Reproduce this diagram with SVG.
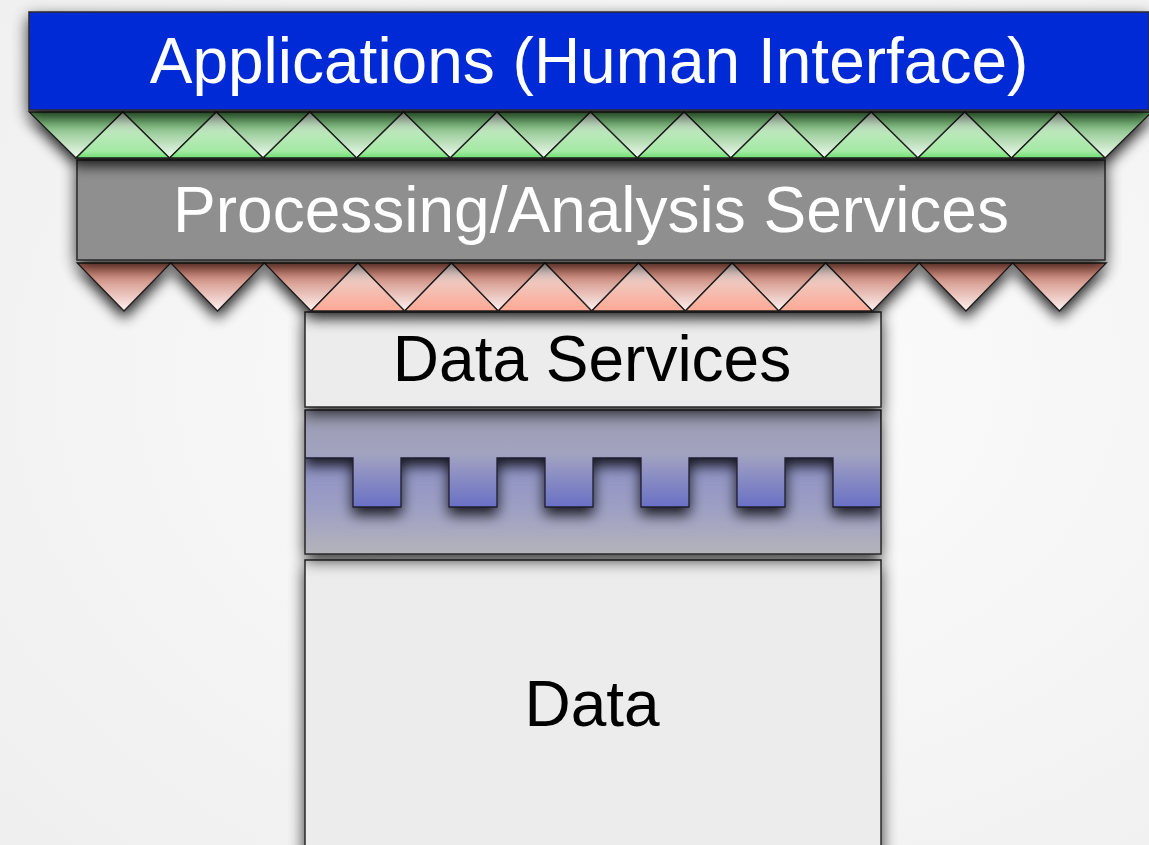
<svg xmlns="http://www.w3.org/2000/svg" xmlns:xlink="http://www.w3.org/1999/xlink" width="1149" height="845" viewBox="0 0 1149 845">
<style>
.lbl{font-family:"Liberation Sans",Arial,Helvetica,sans-serif;font-size:64px;text-anchor:middle}
.tri{stroke:#1e1e1e;stroke-width:1.3;stroke-linejoin:miter}
.box{stroke:#2a2a2a;stroke-width:1.5}
</style>
<defs>
<radialGradient id="bg" cx="0.6" cy="0.45" r="0.8">
<stop offset="0" stop-color="#fdfdfd"/>
<stop offset="1" stop-color="#efefef"/>
</radialGradient>
<linearGradient id="gDown" x1="0" y1="0" x2="0" y2="1">
<stop offset="0" stop-color="#5aa85a"/>
<stop offset="1" stop-color="#effcef"/>
</linearGradient>
<linearGradient id="gUp" x1="0" y1="0" x2="0" y2="1">
<stop offset="0" stop-color="#d6e6d6"/>
<stop offset="0.85" stop-color="#a4eaa4"/>
<stop offset="1" stop-color="#6ee06e"/>
</linearGradient>
<linearGradient id="rDown" x1="0" y1="0" x2="0" y2="1">
<stop offset="0" stop-color="#c06a58"/>
<stop offset="1" stop-color="#fff2f0"/>
</linearGradient>
<linearGradient id="rUp" x1="0" y1="0" x2="0" y2="1">
<stop offset="0" stop-color="#e6dcda"/>
<stop offset="1" stop-color="#ffa995"/>
</linearGradient>
<linearGradient id="upperTeeth" gradientUnits="userSpaceOnUse" x1="0" y1="411" x2="0" y2="507">
<stop offset="0" stop-color="#9a9ab0"/>
<stop offset="0.45" stop-color="#a2a3c0"/>
<stop offset="1" stop-color="#6a70c6"/>
</linearGradient>
<linearGradient id="lowerPiece" gradientUnits="userSpaceOnUse" x1="0" y1="458" x2="0" y2="554">
<stop offset="0" stop-color="#8c90c4"/>
<stop offset="0.5" stop-color="#9c9ec4"/>
<stop offset="1" stop-color="#b4b4ba"/>
</linearGradient>
<filter id="sh" x="-6%" y="-25%" width="112%" height="170%">
<feGaussianBlur in="SourceAlpha" stdDeviation="8"/>
<feOffset dy="6"/>
<feComponentTransfer><feFuncA type="linear" slope="0.8"/></feComponentTransfer>
<feMerge><feMergeNode/><feMergeNode in="SourceGraphic"/></feMerge>
</filter>
<filter id="shT" x="-10%" y="-40%" width="120%" height="200%">
<feGaussianBlur in="SourceAlpha" stdDeviation="7"/>
<feOffset dy="7"/>
<feComponentTransfer><feFuncA type="linear" slope="0.85"/></feComponentTransfer>
<feMerge><feMergeNode/><feMergeNode in="SourceGraphic"/></feMerge>
</filter>
<clipPath id="connClip"><rect x="305" y="410" width="576" height="144"/></clipPath>
<polygon id="gd" class="tri" fill="url(#gDown)" points="0,0 93.55,0 46.78,46"/>
<polygon id="gu" class="tri" fill="url(#gUp)" points="0,46 46.78,0 93.55,46"/>
<polygon id="rd" class="tri" fill="url(#rDown)" points="0,0 93.55,0 46.78,48"/>
<polygon id="ru" class="tri" fill="url(#rUp)" points="0,48 46.78,0 93.55,48"/>
</defs>
<rect x="0" y="0" width="1149" height="845" fill="url(#bg)"/>

<g id="data">
<rect class="box" x="305" y="560" width="576" height="300" fill="#ececec" filter="url(#sh)"/>
<text class="lbl" x="592" y="726" fill="#000">Data</text>
</g>

<g id="connector-layer">
<g filter="url(#sh)">
<rect x="305" y="410" width="576" height="144" fill="#b4b4ba"/>
</g>
<g clip-path="url(#connClip)">
<rect x="305" y="410" width="576" height="144" fill="url(#lowerPiece)"/>
<path filter="url(#shT)" fill="url(#upperTeeth)" stroke="#1e1e2e" stroke-width="1.3" d="M305,400 H881 V507 H833 V458 H785 V507 H737 V458 H689 V507 H641 V458 H593 V507 H545 V458 H497 V507 H449 V458 H401 V507 H353 V458 H305 Z"/>
</g>
<rect class="box" x="305" y="410" width="576" height="144" fill="none"/>
</g>

<g id="data-services">
<rect class="box" x="305" y="312" width="576" height="95" fill="#ececec" filter="url(#sh)"/>
<text class="lbl" x="592" y="381" fill="#000">Data Services</text>
</g>

<g id="red-interface" filter="url(#shT)">
<use xlink:href="#rd" x="77.2" y="263"/>
<use xlink:href="#rd" x="170.75" y="263"/>
<use xlink:href="#rd" x="264.3" y="263"/>
<use xlink:href="#rd" x="357.85" y="263"/>
<use xlink:href="#rd" x="451.4" y="263"/>
<use xlink:href="#rd" x="544.95" y="263"/>
<use xlink:href="#rd" x="638.5" y="263"/>
<use xlink:href="#rd" x="732.05" y="263"/>
<use xlink:href="#rd" x="825.6" y="263"/>
<use xlink:href="#rd" x="919.15" y="263"/>
<use xlink:href="#rd" x="1012.7" y="263"/>
<use xlink:href="#ru" x="311.1" y="263"/>
<use xlink:href="#ru" x="404.65" y="263"/>
<use xlink:href="#ru" x="498.2" y="263"/>
<use xlink:href="#ru" x="591.75" y="263"/>
<use xlink:href="#ru" x="685.3" y="263"/>
<use xlink:href="#ru" x="778.85" y="263"/>
</g>

<g id="processing">
<rect class="box" x="77" y="160" width="1028" height="100" fill="#8f8f8f" filter="url(#sh)"/>
<text class="lbl" x="591" y="232" fill="#fff">Processing/Analysis Services</text>
</g>

<g id="green-interface" filter="url(#shT)">
<use xlink:href="#gd" x="29.2" y="112"/>
<use xlink:href="#gd" x="122.75" y="112"/>
<use xlink:href="#gd" x="216.3" y="112"/>
<use xlink:href="#gd" x="309.85" y="112"/>
<use xlink:href="#gd" x="403.4" y="112"/>
<use xlink:href="#gd" x="496.95" y="112"/>
<use xlink:href="#gd" x="590.5" y="112"/>
<use xlink:href="#gd" x="684.05" y="112"/>
<use xlink:href="#gd" x="777.6" y="112"/>
<use xlink:href="#gd" x="871.15" y="112"/>
<use xlink:href="#gd" x="964.7" y="112"/>
<use xlink:href="#gd" x="1058.25" y="112"/>
<use xlink:href="#gu" x="76" y="112"/>
<use xlink:href="#gu" x="169.55" y="112"/>
<use xlink:href="#gu" x="263.1" y="112"/>
<use xlink:href="#gu" x="356.65" y="112"/>
<use xlink:href="#gu" x="450.2" y="112"/>
<use xlink:href="#gu" x="543.75" y="112"/>
<use xlink:href="#gu" x="637.3" y="112"/>
<use xlink:href="#gu" x="730.85" y="112"/>
<use xlink:href="#gu" x="824.4" y="112"/>
<use xlink:href="#gu" x="917.95" y="112"/>
<use xlink:href="#gu" x="1011.5" y="112"/>
</g>

<g id="applications">
<rect class="box" x="29" y="12" width="1120" height="98" fill="#0629d6" filter="url(#sh)"/>
<text class="lbl" x="589" y="83" fill="#fff">Applications (Human Interface)</text>
</g>
</svg>
